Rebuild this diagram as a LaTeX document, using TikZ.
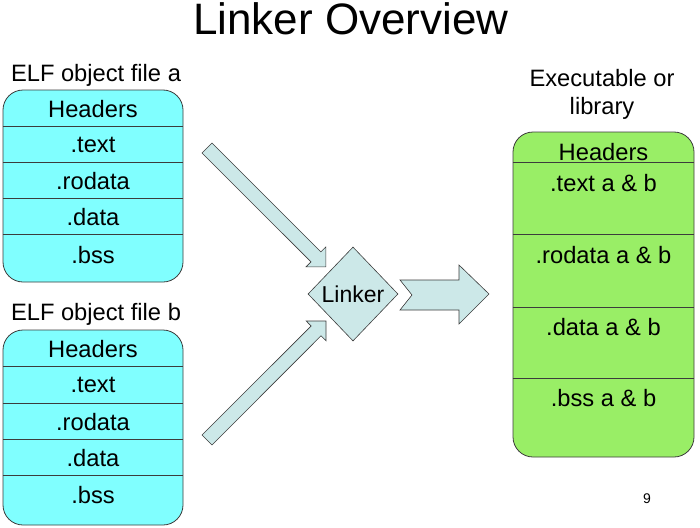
\documentclass[tikz,border=0pt]{standalone}
\usepackage{fontspec}
\setmainfont{Liberation Sans}
\usetikzlibrary{shapes.geometric}
\definecolor{cyanbox}{RGB}{128,255,255}
\definecolor{greenbox}{RGB}{153,238,102}
\definecolor{arrowfill}{RGB}{204,232,232}
\definecolor{edge}{RGB}{60,60,60}
\tikzset{
  objbox/.style={draw=edge, line width=0.8pt, fill=cyanbox, rounded corners=20pt, inner sep=0pt},
  exebox/.style={draw=edge, line width=0.8pt, fill=greenbox, rounded corners=20pt, inner sep=0pt},
  divider/.style={draw=edge, line width=0.8pt},
  body/.style={font=\fontsize{23.7}{28}\selectfont, inner sep=0pt},
  blockarrow/.style={draw=edge, line width=0.6pt, fill=arrowfill, line join=miter},
  linkerbox/.style={diamond, draw=edge, line width=0.6pt, fill=arrowfill, inner sep=0pt,
     minimum width=90pt, minimum height=94pt, font=\fontsize{23}{25}\selectfont},
}
\begin{document}
\begin{tikzpicture}[x=1pt, y=-1pt]
\useasboundingbox (0,0) rectangle (700,527);
% title
\node[font=\fontsize{44}{48}\selectfont, inner sep=0pt] (title) at (351,19) {Linker Overview};
% box a
\node[body] (labela) at (96,75) {ELF object file a};
\node[objbox, minimum width=180pt, minimum height=192pt] (boxa) at (93,186) {};
\foreach \yy in {126,162,198,234} \draw[divider] (boxa.west |- 0,\yy) -- (boxa.east |- 0,\yy);
\node[body] (ahead) at (93,109) {Headers};
\node[body] (atext) at (93,145) {.text};
\node[body] (arod) at (93,181) {.rodata};
\node[body] (adata) at (93,217) {.data};
\node[body] (abss) at (93,255) {.bss};
% box b
\node[body] (labelb) at (96,314) {ELF object file b};
\node[objbox, minimum width=180pt, minimum height=195pt] (boxb) at (93,427.5) {};
\foreach \yy in {366,403,439,475} \draw[divider] (boxb.west |- 0,\yy) -- (boxb.east |- 0,\yy);
\node[body] (bhead) at (93,349) {Headers};
\node[body] (btext) at (93,385) {.text};
\node[body] (brod) at (93,422) {.rodata};
\node[body] (bdata) at (93,458) {.data};
\node[body] (bbss) at (93,495) {.bss};
% executable
\node[body, align=center] (labelc) at (602,94) {Executable or\\library};
\node[exebox, minimum width=181pt, minimum height=325pt] (boxc) at (603.5,294.5) {};
\foreach \yy in {162,234,307,378} \draw[divider] (boxc.west |- 0,\yy) -- (boxc.east |- 0,\yy);
\node[body] (chead) at (603.5,152) {Headers};
\node[body] (ctext) at (603.5,183) {.text a \& b};
\node[body] (crod) at (603.5,255) {.rodata a \& b};
\node[body] (cdata) at (603.5,327) {.data a \& b};
\node[body] (cbss) at (603.5,398) {.bss a \& b};
% linker
\node[linkerbox] (linker) at (353,294) {Linker};
% block arrows
\draw[blockarrow] (202,153) -- (212,143) -- (320.9,251.9) -- (325.8,247) -- (325.8,266.8) -- (306,266.8) -- (311,261.9) -- cycle;
\draw[blockarrow] (202,435) -- (311.1,326) -- (306.2,321) -- (326,321) -- (326,340.8) -- (321,335.8) -- (212,445) -- cycle;
\draw[blockarrow] (400,280) -- (459,280) -- (459,265) -- (489,294) -- (459,324) -- (459,310) -- (400,310) -- (412,295) -- cycle;
% page number
\node[font=\fontsize{14}{16}\selectfont, inner sep=0pt] (pagenum) at (647,499) {9};
\end{tikzpicture}
\end{document}
